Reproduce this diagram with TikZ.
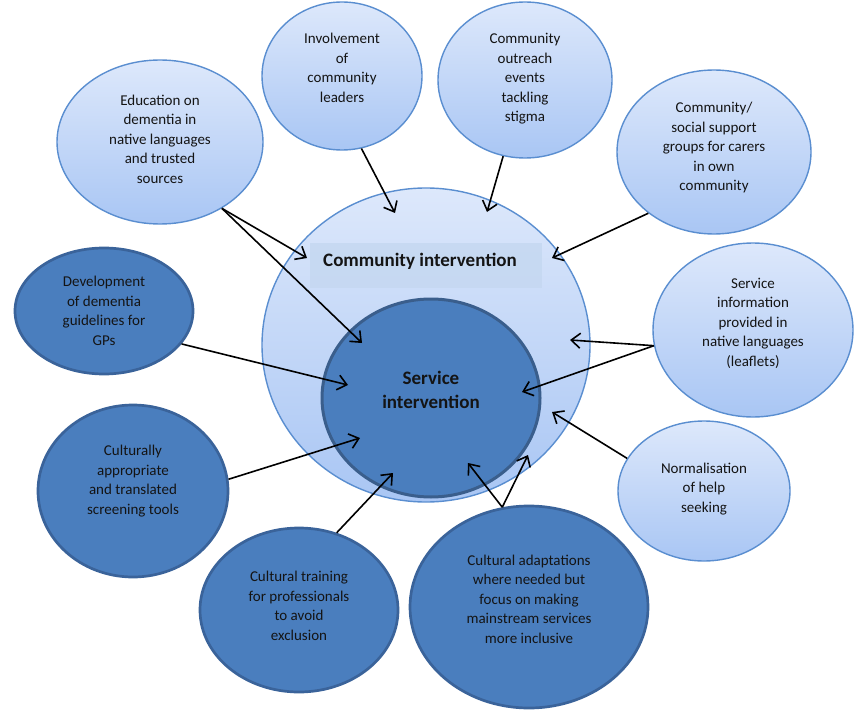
\documentclass[tikz,border=0pt]{standalone}
\usepackage{fontspec}
\setmainfont{Carlito}
\usetikzlibrary{shapes.geometric,arrows.meta}
\definecolor{lighttop}{HTML}{DDE8FB}
\definecolor{lightbot}{HTML}{A9C6F4}
\definecolor{lightedge}{HTML}{5A8ED0}
\definecolor{darkfill}{HTML}{4A7EBE}
\definecolor{darkedge}{HTML}{3A639A}
\definecolor{servedge}{HTML}{3A5E8C}
\definecolor{boxfill}{HTML}{C5D8F1}
\definecolor{txtcol}{HTML}{141414}
\tikzset{
  lightbub/.style={ellipse, draw=lightedge, line width=1.4pt, top color=lighttop, bottom color=lightbot, inner sep=0pt},
  darkbub/.style={ellipse, draw=darkedge, line width=2.7pt, fill=darkfill, inner sep=0pt},
  btxt/.style={align=center, text=txtcol, font=\fontsize{15}{19.5}\selectfont, inner sep=0pt},
  arr/.style={line width=1.6pt, draw=black, -{Straight Barb[length=9pt,width=15pt]}}
}
\begin{document}
\begin{tikzpicture}[x=1pt,y=-1pt]
\useasboundingbox (0,0) rectangle (856,714);
% central circles
\node[lightbub, minimum width=328pt, minimum height=314pt] (comm) at (426,345) {};
\node[fill=boxfill, fill opacity=0.85, minimum width=232pt, minimum height=45pt, inner sep=0pt] (cbox) at (426,265.5) {};
\node[text=txtcol, font=\bfseries\fontsize{19}{22}\selectfont, inner sep=0pt] (ctext) at (420,261) {Community intervention};
\node[darkbub, draw=servedge, line width=3pt, minimum width=218pt, minimum height=198pt] (serv) at (431,398) {};
\node[align=center, text=txtcol, font=\bfseries\fontsize{19}{23.5}\selectfont, inner sep=0pt] (stext) at (431,390) {Service\\intervention};
% light outer bubbles
\node[lightbub, minimum width=206pt, minimum height=164pt] (edu) at (160,142) {};
\node[btxt] (edut) at (160,139) {Education on\\dementia in\\native languages\\and trusted\\sources};
\node[lightbub, minimum width=160pt, minimum height=148pt] (inv) at (342,76) {};
\node[btxt] (invt) at (342,68) {Involvement\\of\\community\\leaders};
\node[lightbub, minimum width=174pt, minimum height=156pt] (out) at (525,80) {};
\node[btxt] (outt) at (525,79) {Community\\outreach\\events\\tackling\\stigma};
\node[lightbub, minimum width=194pt, minimum height=164pt] (sup) at (714,152) {};
\node[btxt] (supt) at (714,148) {Community/\\social support\\groups for carers\\in own\\community};
\node[lightbub, minimum width=200pt, minimum height=174pt] (info) at (753,330) {};
\node[btxt] (infot) at (753,323) {Service\\information\\provided in\\native languages\\(leaflets)};
\node[lightbub, minimum width=172pt, minimum height=140pt] (norm) at (704,491) {};
\node[btxt] (normt) at (704,489) {Normalisation\\of help\\seeking};
% dark outer bubbles
\node[darkbub, minimum width=178pt, minimum height=126pt] (dev) at (104,311) {};
\node[btxt] (devt) at (104,311) {Development\\of dementia\\guidelines for\\GPs};
\node[darkbub, minimum width=190pt, minimum height=172pt] (cap) at (133,491) {};
\node[btxt] (capt) at (133,481) {Culturally\\appropriate\\and translated\\screening tools};
\node[darkbub, minimum width=198pt, minimum height=164pt] (trn) at (299,610) {};
\node[btxt] (trnt) at (299,606) {Cultural training\\for professionals\\to avoid\\exclusion};
\node[darkbub, minimum width=238pt, minimum height=202pt] (adp) at (529,607) {};
\node[btxt] (adpt) at (529,599) {Cultural adaptations\\where needed but\\focus on making\\mainstream services\\more inclusive};
% arrow end points
\coordinate (a1) at (395,213);
\coordinate (a2) at (487,212);
\coordinate (a3) at (307,258);
\coordinate (a4) at (362,343);
\coordinate (a5) at (552,258);
\coordinate (a6) at (348,385);
\coordinate (a7) at (570,340);
\coordinate (a8) at (522,392);
\coordinate (a9) at (552,412);
\coordinate (a10) at (360,438);
\coordinate (a11) at (393,473);
\coordinate (a12) at (468,463);
\coordinate (a13) at (528,455);
% arrows
\draw[arr] (inv.-75) -- (a1);
\draw[arr] (out.-106) -- (a2);
\draw[arr] (edu.-47) -- (a3);
\draw[arr] (edu.-47) -- (a4);
\draw[arr] (sup.-137) -- (a5);
\draw[arr] (dev.-23) -- (a6);
\draw[arr] (info.189) -- (a7);
\draw[arr] (info.189) -- (a8);
\draw[arr] (norm.157) -- (a9);
\draw[arr] (cap.7) -- (a10);
\draw[arr] (trn.64) -- (a11);
\draw[arr] (adp.105) -- (a12);
\draw[arr] (adp.105) -- (a13);
\end{tikzpicture}
\end{document}
